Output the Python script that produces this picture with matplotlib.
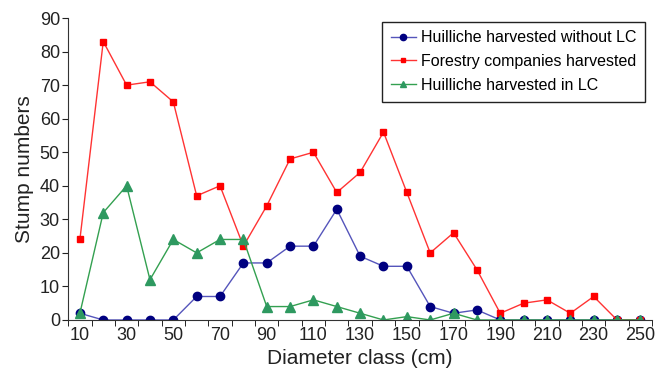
import numpy as np
import matplotlib.pyplot as plt

plt.rcParams['font.family'] = ['Liberation Sans', 'DejaVu Sans']

classes = list(range(10, 260, 10))
without_lc = [2, 0, 0, 0, 0, 7, 7, 17, 17, 22, 22, 33, 19, 16, 16, 4, 2, 3,
              0, 0, 0, 0, 0, 0, 0]
forestry = [24, 83, 70, 71, 65, 37, 40, 22, 34, 48, 50, 38, 44, 56, 38, 20, 26, 15,
            2, 5, 6, 2, 7, 0, 0]
in_lc = [2, 32, 40, 12, 24, 20, 24, 24, 4, 4, 6, 4, 2, 0, 1, 0, 2, 0,
         0, 0, 0, 0, 0, 0, 0]

fig = plt.figure(figsize=(6.56, 3.76), dpi=100)
ax = fig.add_axes([0.104, 0.149, 0.89, 0.803])

x = np.arange(len(classes))
ax.plot(x, without_lc, color='#5555bb', lw=1.0, marker='o', ms=6,
        mfc='#000080', mec='#000080', label='Huilliche harvested without LC')
ax.plot(x, forestry, color='#ff3333', lw=1.0, marker='s', ms=4.5,
        mfc='#ff0000', mec='#ff0000', label='Forestry companies harvested')
ax.plot(x, in_lc, color='#33a050', lw=1.0, marker='^', ms=6.5,
        mfc='#2e9960', mec='#2e9960', label='Huilliche harvested in LC')

ax.set_xlim(-0.5, len(classes) - 0.5)
ax.set_ylim(0, 90)
ax.set_yticks(range(0, 91, 10))
ax.set_xticks(x[::2])
ax.set_xticklabels([str(c) for c in classes[::2]])
ax.set_xticks(np.arange(-0.5, len(classes), 1), minor=True)
ax.tick_params(axis='x', which='major', length=0, labelsize=13, pad=5, colors='#222222')
ax.tick_params(axis='x', which='minor', length=4, direction='out')
ax.tick_params(axis='y', labelsize=13, length=4, direction='out', pad=2, colors='#222222')
for s in ('top', 'right'):
    ax.spines[s].set_visible(False)
for s in ('left', 'bottom'):
    ax.spines[s].set_color('#333333')

ax.set_xlabel('Diameter class (cm)', fontsize=15, color='#222222', labelpad=4)
ax.set_ylabel('Stump numbers', fontsize=15, color='#222222', labelpad=4)

leg = ax.legend(loc='upper right', bbox_to_anchor=(1.002, 1.015), fontsize=11.5,
                fancybox=False, edgecolor='#222222', framealpha=1,
                handlelength=1.6, handletextpad=0.3, markerscale=0.75,
                borderpad=0.55, labelspacing=0.55)
leg.get_frame().set_linewidth(1.0)

fig.savefig('out.png', dpi=100)
